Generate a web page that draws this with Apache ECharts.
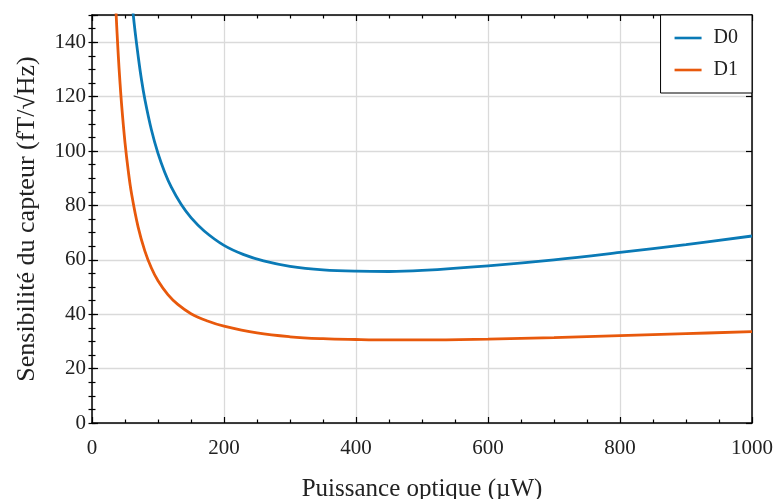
<!DOCTYPE html>
<html>
<head>
<meta charset="utf-8">
<script src="https://cdn.jsdelivr.net/npm/echarts@6/dist/echarts.min.js"></script>
<style>html,body{margin:0;padding:0;background:#fff}#c{width:775px;height:499px}</style>
</head>
<body>
<div id="c"></div>
<script>
// ---- data ----
const seriesNames = ['D0', 'D1'];
const d0X = [62, 65, 70, 75, 80, 90, 100, 110, 120, 135, 150, 170, 200, 230, 260, 300, 350, 400, 450, 500, 600, 700, 800, 900, 1000];
const d0Y = [151.3, 144.5, 134.8, 126.2, 119.1, 107.8, 99.1, 92.3, 86.8, 80.4, 75.5, 70.6, 65.3, 61.9, 59.6, 57.6, 56.3, 55.8, 55.7, 56.1, 57.8, 60.0, 62.7, 65.6, 68.75];
const d1X = [36, 37, 38, 40, 42, 45, 50, 55, 60, 70, 80, 90, 100, 115, 130, 150, 175, 200, 250, 300, 350, 400, 450, 500, 600, 700, 800, 900, 1000];
const d1Y = [153.3, 148.1, 143.3, 134.4, 126.7, 116.6, 103.1, 92.6, 84.2, 71.9, 63.3, 57.0, 52.3, 47.2, 43.6, 40.2, 37.5, 35.6, 33.1, 31.7, 31.0, 30.7, 30.55, 30.55, 30.85, 31.4, 32.1, 32.85, 33.6];
const xTicks = [0, 200, 400, 600, 800, 1000];
const yTicks = [0, 20, 40, 60, 80, 100, 120, 140];
const xLabel = 'Puissance optique (µW)';
const yLabel = 'Sensibilité du capteur (fT/√Hz)';

const FONT = 'Liberation Serif';
const zip = (xs, ys) => xs.map((x, i) => [x, ys[i]]);
const lineStyleAxis = { color: '#000', width: 1.5 };

const xMajor = (pos, labels) => ({
  type: 'value', position: pos, min: xTicks[0], max: xTicks[xTicks.length - 1], interval: xTicks[1] - xTicks[0],
  axisLine: { show: true, onZero: false, lineStyle: lineStyleAxis },
  axisTick: { show: true, inside: true, length: 6, lineStyle: { color: '#000', width: 1.2 } },
  minorTick: { show: true, splitNumber: 4, length: 3.5, lineStyle: { color: '#000', width: 1.2 } },
  axisLabel: { show: labels, margin: 15, fontFamily: FONT, fontSize: 21, color: '#222',
    formatter: v => String(v) },
  splitLine: { show: labels, lineStyle: { color: '#dadada', width: 1.3 } },
  minorSplitLine: { show: false }
});
const yMajor = (pos, labels) => ({
  type: 'value', position: pos, min: 0, max: 150, interval: yTicks[1] - yTicks[0],
  axisLine: { show: true, onZero: false, lineStyle: lineStyleAxis },
  axisTick: { show: true, inside: true, length: 6, lineStyle: { color: '#000', width: 1.2 } },
  axisLabel: { show: labels, margin: 6, fontFamily: FONT, fontSize: 21, color: '#222',
    formatter: v => (yTicks.indexOf(v) >= 0 ? String(v) : '') },
  splitLine: { show: labels, lineStyle: { color: '#dadada', width: 1.3 } }
});
const yMinor = (pos) => ({
  type: 'value', position: pos, min: 0, max: 150, interval: 5,
  axisLine: { show: false },
  axisTick: { show: true, inside: true, length: 3.5, lineStyle: { color: '#000', width: 1.2 } },
  axisLabel: { show: false },
  splitLine: { show: false }
});

const xAxes = [xMajor('bottom', true), xMajor('top', false)];
xAxes[0].name = xLabel;
xAxes[0].nameLocation = 'middle';
xAxes[0].nameGap = 54;
xAxes[0].nameTextStyle = { fontFamily: FONT, fontSize: 25, color: '#222' };

const yAxes = [yMajor('left', true), yMinor('left'), yMajor('right', false), yMinor('right')];
yAxes[0].name = yLabel;
yAxes[0].nameLocation = 'middle';
yAxes[0].nameGap = 52;
yAxes[0].nameTextStyle = { fontFamily: FONT, fontSize: 26, color: '#222', padding: [0, 0, 0, 0] };

const chart = echarts.init(document.getElementById('c'), null, { renderer: 'canvas' });
chart.setOption({
  animation: false,
  backgroundColor: '#fff',
  grid: { left: 92, right: 23, top: 15, bottom: 76, containLabel: false, outerBoundsMode: 'none' },
  xAxis: xAxes,
  yAxis: yAxes,
  legend: {
    orient: 'vertical', right: 23, top: 15,
    padding: [13, 14, 13, 14], itemGap: 12,
    itemWidth: 27, itemHeight: 2.6, icon: 'rect',
    backgroundColor: '#fff', borderColor: '#000', borderWidth: 1, borderRadius: 0,
    textStyle: { fontFamily: FONT, fontSize: 20, color: '#222', padding: [0, 0, 0, 7], lineHeight: 20 },
    data: seriesNames
  },
  series: [
    { name: seriesNames[0], type: 'line', xAxisIndex: 0, yAxisIndex: 0, data: zip(d0X, d0Y),
      smooth: 0.4, symbol: 'none', lineStyle: { color: '#0a7ab6', width: 2.8 }, itemStyle: { color: '#0a7ab6' }, clip: true },
    { name: seriesNames[1], type: 'line', xAxisIndex: 0, yAxisIndex: 0, data: zip(d1X, d1Y),
      smooth: 0.4, symbol: 'none', lineStyle: { color: '#e8590c', width: 2.8 }, itemStyle: { color: '#e8590c' }, clip: true }
  ]
});
</script>
</body>
</html>
